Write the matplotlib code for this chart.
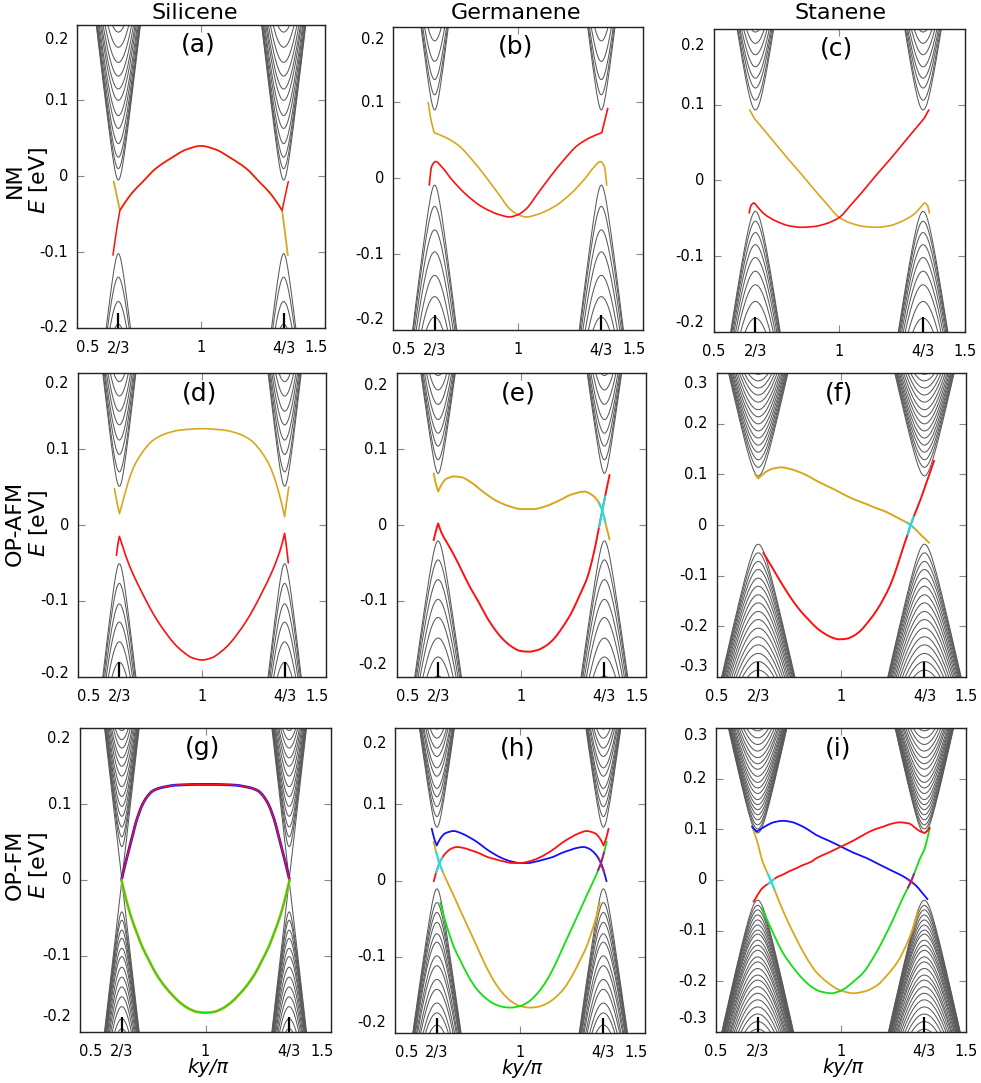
import numpy as np
import matplotlib
matplotlib.use("Agg")
import matplotlib.pyplot as plt
from matplotlib.path import Path
from matplotlib.patches import PathPatch

#%% layout / style
W, H = 981, 1083
GRAY = '#5a5a5a'
RED = '#ff1010'
YEL = '#d9a61c'
BLUE = '#1010ff'
GRN = '#10e010'
CYAN = '#20e0e0'
PURP = '#a02080'

#%% x axis (ky/pi)
X_TICKS = [0.5, 2/3, 1.0, 4/3, 1.5]
X_TICK_LABELS = ['0.5', '2/3', '1', '4/3', '1.5']
VALLEYS = [2/3, 4/3]
Y_TICKS_02 = [-0.2, -0.1, 0.0, 0.1, 0.2]
Y_TICKS_03 = [-0.3, -0.2, -0.1, 0.0, 0.1, 0.2, 0.3]

COLUMNS = ['Silicene', 'Germanene', 'Stanene']
ROWS = ['NM', 'OP-AFM', 'OP-FM']

#%% bulk subband edges (eV) read at the valleys, band centre and slope
A_E0, A_V = -0.055, 2.8
A_COND = [-0.005, 0.010, 0.025, 0.043, 0.063, 0.080, 0.100, 0.115, 0.132, 0.150, 0.170, 0.190]
A_VAL = [-0.102, -0.133, -0.165, -0.195]

B_E0, B_V = 0.045, 2.7
B_COND = [0.090, 0.110, 0.130, 0.154, 0.181]
B_VAL = [-0.009, -0.037, -0.068, -0.097, -0.128, -0.156, -0.183]

C_E0, C_V = 0.027, 2.2
C_COND = [0.093, 0.106, 0.122, 0.135, 0.150, 0.166, 0.181, 0.196]
C_VAL = [-0.041, -0.054, -0.069, -0.085, -0.102, -0.120, -0.138, -0.160, -0.182]

D_E0, D_V = 0.0, 2.9
D_COND = [0.051, 0.070, 0.093, 0.112, 0.132, 0.150, 0.170, 0.189]
D_VAL = [-0.051, -0.077, -0.104, -0.128, -0.154, -0.181]

E_E0, E_V = 0.03, 2.4
E_COND = [0.068, 0.086, 0.104, 0.121, 0.139, 0.159, 0.178, 0.197]
E_VAL = [-0.021, -0.046, -0.072, -0.098, -0.122, -0.149, -0.174, -0.199]

F_E0, F_V = 0.03, 2.2
F_COND = [0.097, 0.114, 0.129, 0.144, 0.158, 0.172, 0.186, 0.200, 0.214, 0.228,
          0.243, 0.257, 0.271, 0.285, 0.298]
F_VAL = [-0.038, -0.055, -0.072, -0.088, -0.105, -0.121, -0.138, -0.154, -0.171,
         -0.187, -0.204, -0.221, -0.237, -0.254, -0.270, -0.287]

G_E0, G_V = 0.0, 2.9
G_COND = [0.003, 0.044, 0.057, 0.070, 0.084, 0.097, 0.110, 0.123, 0.137, 0.150,
          0.161, 0.174, 0.185, 0.197]
G_VAL = [-0.003, -0.042, -0.053, -0.066, -0.077, -0.090, -0.101, -0.115, -0.128,
         -0.141, -0.154, -0.167, -0.183, -0.196]

H_E0, H_V = 0.031, 2.35
H_COND = [0.070, 0.084, 0.097, 0.110, 0.121, 0.137, 0.148, 0.163, 0.174, 0.187, 0.199]
H_VAL = [-0.011, -0.029, -0.042, -0.055, -0.070, -0.081, -0.099, -0.112, -0.130,
         -0.143, -0.161, -0.174, -0.190]

I_E0, I_V = 0.03, 2.25
I_COND = [0.093, 0.101, 0.109, 0.119, 0.129, 0.139, 0.149, 0.159, 0.171, 0.182,
          0.193, 0.205, 0.219, 0.230, 0.242, 0.255, 0.268, 0.281, 0.295]
I_VAL = [-0.040, -0.050, -0.059, -0.069, -0.079, -0.089, -0.099, -0.107, -0.119,
         -0.129, -0.139, -0.152, -0.162, -0.175, -0.188, -0.198, -0.211, -0.224,
         -0.237, -0.251, -0.265, -0.280, -0.295]

#%% edge states (ky/pi, E)
# (a) silicene NM
A_YEL_X = [0.648, 0.660, 0.673, 0.695, 0.722, 0.763, 0.817, 0.885, 0.939, 1.000, 1.061,
           1.115, 1.183, 1.237, 1.278, 1.305, 1.327, 1.337, 1.350]
A_YEL_E = [-0.007, -0.025, -0.045, -0.034, -0.022, -0.008, 0.010, 0.025, 0.035, 0.040, 0.035,
           0.025, 0.010, -0.008, -0.022, -0.034, -0.045, -0.070, -0.104]
A_RED_X = [0.645, 0.660, 0.673, 0.695, 0.722, 0.763, 0.817, 0.885, 0.939, 1.000, 1.061,
           1.115, 1.183, 1.237, 1.278, 1.305, 1.327, 1.340, 1.352]
A_RED_E = [-0.104, -0.070, -0.045, -0.034, -0.022, -0.008, 0.010, 0.025, 0.035, 0.040, 0.035,
           0.025, 0.010, -0.008, -0.022, -0.034, -0.045, -0.025, -0.007]

# (b) germanene NM
B_YEL_X = [0.641, 0.650, 0.665, 0.709, 0.763, 0.817, 0.871, 0.925, 0.966, 1.000, 1.034,
           1.075, 1.142, 1.209, 1.264, 1.305, 1.329, 1.346, 1.355]
B_YEL_E = [0.100, 0.080, 0.060, 0.054, 0.043, 0.024, 0.002, -0.022, -0.040, -0.048, -0.051,
           -0.048, -0.038, -0.021, -0.002, 0.015, 0.022, 0.015, -0.009]
B_RED_X = [0.645, 0.654, 0.671, 0.695, 0.736, 0.791, 0.858, 0.925, 0.966, 1.000, 1.034,
           1.075, 1.129, 1.183, 1.237, 1.291, 1.335, 1.350, 1.359]
B_RED_E = [-0.009, 0.015, 0.022, 0.015, -0.002, -0.021, -0.038, -0.048, -0.051, -0.048, -0.040,
           -0.022, 0.002, 0.024, 0.043, 0.054, 0.060, 0.080, 0.092]

# (c) stanene NM
C_YEL_X = [0.644, 0.662, 0.70, 0.75, 0.80, 0.85, 0.90, 0.95, 1.00, 1.05, 1.10, 1.15,
           1.20, 1.25, 1.30, 1.325, 1.340, 1.352, 1.358]
C_YEL_E = [0.093, 0.082, 0.067, 0.047, 0.027, 0.008, -0.012, -0.031, -0.049, -0.057, -0.061,
           -0.062, -0.060, -0.054, -0.044, -0.035, -0.030, -0.034, -0.043]
C_RED_X = [0.642, 0.648, 0.660, 0.675, 0.70, 0.75, 0.80, 0.85, 0.90, 0.95, 1.00, 1.05,
           1.10, 1.15, 1.20, 1.25, 1.30, 1.338, 1.356]
C_RED_E = [-0.043, -0.034, -0.030, -0.035, -0.044, -0.054, -0.060, -0.062, -0.061, -0.057,
           -0.049, -0.031, -0.012, 0.008, 0.027, 0.047, 0.067, 0.082, 0.093]

# (d) silicene OP-AFM
D_YEL_X = [0.647, 0.657, 0.667, 0.680, 0.694, 0.710, 0.730, 0.760, 0.80, 0.85, 0.91, 1.0,
           1.09, 1.15, 1.20, 1.24, 1.27, 1.29, 1.306, 1.320, 1.333, 1.341, 1.350]
D_YEL_E = [0.048, 0.030, 0.015, 0.030, 0.047, 0.064, 0.080, 0.096, 0.111, 0.120, 0.125, 0.127,
           0.125, 0.120, 0.111, 0.096, 0.080, 0.064, 0.047, 0.030, 0.011, 0.030, 0.050]
D_RED_X = [0.655, 0.661, 0.667, 0.680, 0.694, 0.721, 0.755, 0.788, 0.822, 0.856, 0.89, 0.923,
           0.96, 1.0, 1.04, 1.077, 1.11, 1.144, 1.178, 1.212, 1.245, 1.279, 1.306, 1.320, 1.333,
           1.341, 1.348]
D_RED_E = [-0.040, -0.025, -0.015, -0.028, -0.042, -0.064, -0.087, -0.108, -0.127, -0.143,
           -0.157, -0.167, -0.175, -0.178, -0.175, -0.167, -0.157, -0.143, -0.127, -0.108,
           -0.087, -0.064, -0.042, -0.028, -0.011, -0.030, -0.050]

# (e) germanene OP-AFM
E_YEL_X = [0.649, 0.658, 0.667, 0.680, 0.700, 0.732, 0.76, 0.80, 0.85, 0.90, 0.95, 1.00,
           1.05, 1.10, 1.15, 1.20, 1.253, 1.29, 1.310, 1.324, 1.338, 1.354]
E_YEL_E = [0.068, 0.054, 0.044, 0.053, 0.061, 0.064, 0.063, 0.056, 0.043, 0.032, 0.025, 0.021,
           0.021, 0.025, 0.032, 0.040, 0.044, 0.038, 0.030, 0.020, 0.002, -0.019]
E_RED_X = [0.649, 0.658, 0.667, 0.680, 0.70, 0.726, 0.76, 0.793, 0.83, 0.861, 0.895, 0.928,
           0.96, 0.996, 1.03, 1.064, 1.10, 1.131, 1.165, 1.199, 1.235, 1.266, 1.29, 1.307,
           1.324, 1.34, 1.354]
E_RED_E = [-0.020, -0.008, 0.002, -0.010, -0.022, -0.037, -0.059, -0.081, -0.102, -0.121,
           -0.138, -0.151, -0.160, -0.166, -0.167, -0.165, -0.159, -0.150, -0.135, -0.117,
           -0.092, -0.068, -0.038, -0.011, 0.018, 0.044, 0.066]

# (f) stanene OP-AFM
F_YEL_X = [0.654, 0.660, 0.667, 0.680, 0.70, 0.73, 0.761, 0.80, 0.835, 0.87, 0.902, 0.935,
           0.969, 1.00, 1.036, 1.07, 1.103, 1.136, 1.170, 1.20, 1.238, 1.258, 1.278, 1.298,
           1.318, 1.335, 1.352]
F_YEL_E = [0.101, 0.096, 0.092, 0.098, 0.106, 0.112, 0.114, 0.110, 0.104, 0.096, 0.087, 0.079,
           0.071, 0.063, 0.054, 0.047, 0.041, 0.034, 0.028, 0.021, 0.011, 0.006, 0.000, -0.009,
           -0.019, -0.027, -0.035]
F_RED_X = [0.687, 0.72, 0.75, 0.78, 0.81, 0.84, 0.87, 0.90, 0.93, 0.96, 0.99, 1.02, 1.05,
           1.077, 1.11, 1.144, 1.17, 1.197, 1.225, 1.251, 1.265, 1.278, 1.298, 1.318, 1.345,
           1.372]
F_RED_E = [-0.055, -0.082, -0.107, -0.131, -0.153, -0.172, -0.188, -0.203, -0.214, -0.222,
           -0.226, -0.225, -0.219, -0.209, -0.190, -0.167, -0.145, -0.118, -0.080, -0.040,
           -0.020, 0.000, 0.026, 0.051, 0.089, 0.127]

# (g) silicene OP-FM
G_UP_X = [0.665, 0.673, 0.681, 0.691, 0.701, 0.712, 0.722, 0.735, 0.748, 0.768, 0.788, 0.815,
          0.842, 0.88, 0.922, 0.96, 1.0, 1.04, 1.078, 1.12, 1.158, 1.185, 1.212, 1.232, 1.252,
          1.265, 1.278, 1.288, 1.299, 1.309, 1.319, 1.327, 1.335]
G_UP_E = [0.0, 0.011, 0.022, 0.035, 0.048, 0.062, 0.075, 0.088, 0.099, 0.110, 0.117, 0.121,
          0.123, 0.125, 0.1256, 0.126, 0.126, 0.126, 0.1256, 0.125, 0.123, 0.121, 0.117, 0.110,
          0.099, 0.088, 0.075, 0.062, 0.048, 0.035, 0.022, 0.011, 0.0]
G_LO_X = [0.665, 0.673, 0.681, 0.694, 0.708, 0.728, 0.748, 0.775, 0.802, 0.835, 0.869, 0.90,
          0.936, 0.968, 1.0, 1.032, 1.064, 1.10, 1.131, 1.165, 1.198, 1.225, 1.252, 1.272,
          1.292, 1.306, 1.319, 1.327, 1.335]
G_LO_E = [0.0, -0.011, -0.022, -0.038, -0.053, -0.071, -0.088, -0.106, -0.123, -0.139, -0.152,
          -0.162, -0.170, -0.174, -0.175, -0.174, -0.170, -0.162, -0.152, -0.139, -0.123,
          -0.106, -0.088, -0.071, -0.053, -0.038, -0.022, -0.011, 0.0]

# (h) germanene OP-FM
H_BLUE_X = [0.646, 0.656, 0.666, 0.680, 0.700, 0.734, 0.765, 0.795, 0.83, 0.862, 0.895, 0.93,
            0.965, 1.0, 1.032, 1.065, 1.10, 1.132, 1.165, 1.20, 1.23, 1.254, 1.275, 1.295,
            1.31, 1.322, 1.335, 1.346]
H_BLUE_E = [0.068, 0.055, 0.046, 0.055, 0.062, 0.065, 0.062, 0.057, 0.050, 0.042, 0.035, 0.029,
            0.025, 0.023, 0.023, 0.025, 0.028, 0.031, 0.036, 0.040, 0.043, 0.044, 0.042, 0.037,
            0.031, 0.024, 0.012, -0.001]
H_RED_X = [0.654, 0.665, 0.678, 0.690, 0.705, 0.725, 0.746, 0.77, 0.80, 0.835, 0.868, 0.90,
           0.935, 0.968, 1.0, 1.035, 1.07, 1.105, 1.138, 1.17, 1.205, 1.235, 1.266, 1.30,
           1.320, 1.334, 1.344, 1.354]
H_RED_E = [-0.001, 0.012, 0.024, 0.031, 0.037, 0.042, 0.044, 0.043, 0.040, 0.036, 0.031, 0.028,
           0.025, 0.023, 0.023, 0.025, 0.029, 0.035, 0.042, 0.050, 0.057, 0.062, 0.065, 0.062,
           0.055, 0.046, 0.055, 0.068]
H_YEL_X = [0.653, 0.664, 0.676, 0.70, 0.727, 0.76, 0.795, 0.83, 0.862, 0.895, 0.93, 0.965,
           1.0, 1.038, 1.07, 1.105, 1.14, 1.173, 1.207, 1.241, 1.262, 1.281, 1.300, 1.319]
H_YEL_E = [0.051, 0.037, 0.023, 0.004, -0.015, -0.039, -0.064, -0.089, -0.112, -0.132, -0.148,
           -0.159, -0.165, -0.167, -0.166, -0.162, -0.154, -0.143, -0.126, -0.104, -0.090,
           -0.073, -0.053, -0.029]
H_GRN_X = [0.680, 0.70, 0.719, 0.738, 0.759, 0.793, 0.827, 0.86, 0.895, 0.93, 0.962, 1.0,
           1.035, 1.07, 1.105, 1.138, 1.17, 1.205, 1.24, 1.273, 1.30, 1.324, 1.336, 1.347]
H_GRN_E = [-0.029, -0.053, -0.073, -0.090, -0.104, -0.126, -0.143, -0.154, -0.162, -0.166,
           -0.167, -0.165, -0.159, -0.148, -0.132, -0.112, -0.089, -0.064, -0.039, -0.015,
           0.004, 0.023, 0.037, 0.051]

# (i) stanene OP-FM
I_BLUE_X = [0.644, 0.654, 0.664, 0.68, 0.70, 0.73, 0.766, 0.80, 0.833, 0.867, 0.901, 0.95,
            1.0, 1.05, 1.104, 1.14, 1.172, 1.205, 1.226, 1.253, 1.280, 1.30, 1.321, 1.346]
I_BLUE_E = [0.106, 0.100, 0.096, 0.101, 0.107, 0.114, 0.117, 0.115, 0.109, 0.100, 0.089, 0.078,
            0.066, 0.054, 0.043, 0.034, 0.026, 0.018, 0.013, 0.006, -0.003, -0.011, -0.023, -0.038]
I_RED_X = [0.650, 0.684, 0.721, 0.745, 0.765, 0.792, 0.820, 0.850, 0.881, 0.901, 0.95, 1.0,
           1.05, 1.104, 1.14, 1.172, 1.20, 1.233, 1.27, 1.308, 1.322, 1.335, 1.345, 1.355]
I_RED_E = [-0.043, -0.017, -0.003, 0.006, 0.010, 0.017, 0.023, 0.030, 0.036, 0.043, 0.054, 0.066,
           0.078, 0.093, 0.101, 0.106, 0.111, 0.114, 0.112, 0.099, 0.095, 0.093, 0.097, 0.103]
I_YEL_X = [0.644, 0.660, 0.672, 0.684, 0.700, 0.721, 0.745, 0.779, 0.820, 0.860, 0.901, 0.942,
           0.996, 1.050, 1.097, 1.145, 1.185, 1.226, 1.267, 1.294, 1.308]
I_YEL_E = [0.106, 0.084, 0.063, 0.040, 0.020, -0.003, -0.033, -0.073, -0.115, -0.152, -0.182,
           -0.201, -0.218, -0.224, -0.220, -0.208, -0.188, -0.162, -0.122, -0.086, -0.059]
I_GRN_X = [0.684, 0.711, 0.738, 0.765, 0.792, 0.833, 0.874, 0.915, 0.962, 1.003, 1.050, 1.091,
           1.131, 1.172, 1.213, 1.240, 1.260, 1.280, 1.301, 1.314, 1.335, 1.355]
I_GRN_E = [-0.056, -0.086, -0.115, -0.142, -0.162, -0.188, -0.208, -0.220, -0.224, -0.218,
           -0.201, -0.182, -0.152, -0.115, -0.073, -0.043, -0.023, -0.003, 0.023, 0.040, 0.063,
           0.103]

#%% panel table built from the arrays above
# box = (left, top, right, bottom) in pixels, ylab = pixel shift of end labels (top, bottom)
# curve = (x, E, colour, linewidth, indices of sharp corners)
PANELS = [
    dict(tag='(a)', box=(77, 24.5, 325, 328), ylim=0.2, e0=A_E0, v=A_V, cond=A_COND, val=A_VAL,
         curves=[(A_YEL_X, A_YEL_E, YEL, 1.3, [2, 16]), (A_RED_X, A_RED_E, RED, 1.1, [2, 16])],
         hl=[], ylab=(15, 1)),
    dict(tag='(b)', box=(393, 26.5, 643, 330), ylim=0.2, e0=B_E0, v=B_V, cond=B_COND, val=B_VAL,
         curves=[(B_YEL_X, B_YEL_E, YEL, 1.2, [2]), (B_RED_X, B_RED_E, RED, 1.2, [16])],
         hl=[], ylab=(13, 10)),
    dict(tag='(c)', box=(713.5, 29, 965, 331.7), ylim=0.2, e0=C_E0, v=C_V, cond=C_COND, val=C_VAL,
         curves=[(C_YEL_X, C_YEL_E, YEL, 1.2, [1]), (C_RED_X, C_RED_E, RED, 1.2, [17])],
         hl=[], ylab=(16, 9)),
    dict(tag='(d)', box=(78, 373.3, 326, 676.7), ylim=0.2, e0=D_E0, v=D_V, cond=D_COND, val=D_VAL,
         curves=[(D_YEL_X, D_YEL_E, YEL, 1.2, [2, 20]), (D_RED_X, D_RED_E, RED, 1.2, [2, 24])],
         hl=[], ylab=(10, 3)),
    dict(tag='(e)', box=(396.5, 373.3, 646, 676.7), ylim=0.2, e0=E_E0, v=E_V, cond=E_COND, val=E_VAL,
         curves=[(E_YEL_X, E_YEL_E, YEL, 1.4, [2]), (E_RED_X, E_RED_E, RED, 1.4, [2])],
         hl=[(E_YEL_X, E_YEL_E, 1.324, CYAN), (E_RED_X, E_RED_E, 1.324, CYAN)], ylab=(12, 12)),
    dict(tag='(f)', box=(716.7, 373.3, 966, 676.7), ylim=0.3, e0=F_E0, v=F_V, cond=F_COND, val=F_VAL,
         curves=[(F_YEL_X, F_YEL_E, YEL, 1.4, [2]), (F_RED_X, F_RED_E, RED, 1.4, [])],
         hl=[(F_YEL_X, F_YEL_E, 1.278, CYAN), (F_RED_X, F_RED_E, 1.278, CYAN)], ylab=(10, 10)),
    dict(tag='(g)', box=(80, 728.3, 331, 1031.7), ylim=0.2, e0=G_E0, v=G_V, cond=G_COND, val=G_VAL,
         curves=[(G_UP_X, G_UP_E, BLUE, 2.0, []), (G_UP_X, G_UP_E, RED, 1.0, []),
                 (G_LO_X, G_LO_E, YEL, 2.0, []), (G_LO_X, G_LO_E, GRN, 1.0, [])],
         hl=[], ylab=(10, 15)),
    dict(tag='(h)', box=(395.3, 728.3, 645, 1032.7), ylim=0.2, e0=H_E0, v=H_V, cond=H_COND, val=H_VAL,
         curves=[(H_YEL_X, H_YEL_E, YEL, 1.3, []), (H_GRN_X, H_GRN_E, GRN, 1.3, []),
                 (H_BLUE_X, H_BLUE_E, BLUE, 1.3, [2]), (H_RED_X, H_RED_E, RED, 1.3, [25])],
         hl=[(H_YEL_X, H_YEL_E, 0.676, CYAN), (H_RED_X, H_RED_E, 0.676, CYAN),
             (H_GRN_X, H_GRN_E, 1.324, PURP), (H_BLUE_X, H_BLUE_E, 1.324, PURP)], ylab=(15, 10)),
    dict(tag='(i)', box=(716, 728.3, 966, 1031.7), ylim=0.3, e0=I_E0, v=I_V, cond=I_COND, val=I_VAL,
         curves=[(I_YEL_X, I_YEL_E, YEL, 1.3, []), (I_GRN_X, I_GRN_E, GRN, 1.3, []),
                 (I_BLUE_X, I_BLUE_E, BLUE, 1.3, [2]), (I_RED_X, I_RED_E, RED, 1.3, [21])],
         hl=[(I_YEL_X, I_YEL_E, 0.721, CYAN), (I_RED_X, I_RED_E, 0.721, CYAN),
             (I_GRN_X, I_GRN_E, 1.280, PURP), (I_BLUE_X, I_BLUE_E, 1.280, PURP)], ylab=(7, 13)),
]


def ylabel_text(v):
    return '0' if abs(v) < 1e-9 else '%.1f' % v


def pchip_slopes(x, y):
    # shape preserving tangents, so the drawn curve does not overshoot the read points
    h = np.diff(x)
    d = np.diff(y) / h
    m = np.zeros(len(x))
    m[0], m[-1] = d[0], d[-1]
    for i in range(1, len(x) - 1):
        if d[i - 1] * d[i] > 0:
            w1 = 2 * h[i] + h[i - 1]
            w2 = h[i] + 2 * h[i - 1]
            m[i] = (w1 + w2) / (w1 / d[i - 1] + w2 / d[i])
    return m


def smooth_path(x, y, corners):
    # bezier path through every read point, kept sharp at the listed corners
    x = np.asarray(x, float)
    y = np.asarray(y, float)
    cuts = [0] + sorted(corners) + [len(x) - 1]
    verts = [(x[0], y[0])]
    codes = [Path.MOVETO]
    for a, b in zip(cuts[:-1], cuts[1:]):
        xs, ys = x[a:b + 1], y[a:b + 1]
        m = pchip_slopes(xs, ys)
        for i in range(len(xs) - 1):
            h = xs[i + 1] - xs[i]
            verts += [(xs[i] + h / 3, ys[i] + m[i] * h / 3),
                      (xs[i + 1] - h / 3, ys[i + 1] - m[i + 1] * h / 3),
                      (xs[i + 1], ys[i + 1])]
            codes += [Path.CURVE4] * 3
    return Path(verts, codes)


def draw_bulk(ax, p):
    q = np.linspace(-0.25, 0.25, 601)
    for k in VALLEYS:
        for ec in p['cond']:
            ax.plot(k + q, p['e0'] + np.sqrt((ec - p['e0'])**2 + (p['v'] * q)**2),
                    color=GRAY, lw=0.75, zorder=1)
        for ev in p['val']:
            ax.plot(k + q, p['e0'] - np.sqrt((p['e0'] - ev)**2 + (p['v'] * q)**2),
                    color=GRAY, lw=0.75, zorder=1)


fig = plt.figure(figsize=(W / 100, H / 100), dpi=100)

for n, p in enumerate(PANELS):
    row, col = divmod(n, 3)
    l, t, r, b = p['box']
    ax = fig.add_axes([l / W, 1 - b / H, (r - l) / W, (b - t) / H])
    draw_bulk(ax, p)
    for cx, ce, c, lw, corners in p['curves']:
        ax.add_patch(PathPatch(smooth_path(cx, ce, corners), facecolor='none', edgecolor=c,
                               lw=lw, zorder=3, capstyle='round', joinstyle='round'))
    for cx, ce, xc, c in p['hl']:
        xs = np.linspace(xc - 0.012, xc + 0.012, 20)
        ax.plot(xs, np.interp(xs, cx, ce), color=c, lw=1.4, zorder=4)

    ym = p['ylim']
    yt = Y_TICKS_03 if ym > 0.25 else Y_TICKS_02
    ax.set_xlim(0.5, 1.5)
    ax.set_ylim(-ym, ym)

    # ticks
    ax.set_xticks([0.5, 1.0, 1.5])
    ax.set_xticks(VALLEYS, minor=True)
    ax.set_yticks(yt)
    ax.tick_params(which='major', direction='in', length=5, width=0.8, color='#888888',
                   top=True, bottom=True, left=True, right=True,
                   labelbottom=False, labelleft=False)
    ax.tick_params(which='minor', axis='x', direction='in', length=11, width=1.6,
                   color='k', top=False, bottom=True)
    ax.tick_params(which='minor', axis='y', length=0)
    for s in ax.spines.values():
        s.set_color('#222222')
        s.set_linewidth(1.0)

    # tick labels drawn as text to reproduce the shifted end labels
    for yv in yt:
        dy = 0
        if yv == yt[-1]:
            dy = -p['ylab'][0]
        elif yv == yt[0]:
            dy = p['ylab'][1]
        ax.annotate(ylabel_text(yv), xy=(0, yv), xycoords=('axes fraction', 'data'),
                    xytext=(-9, dy), textcoords='offset pixels',
                    ha='right', va='center', fontsize=10.5)
    for xv, lab in zip(X_TICKS, X_TICK_LABELS):
        dx = 0
        if col < 2 and xv == X_TICKS[0]:
            dx = 11
        elif col < 2 and xv == X_TICKS[-1]:
            dx = -9
        ax.annotate(lab, xy=(xv, 0), xycoords=('data', 'axes fraction'),
                    xytext=(dx, -20), textcoords='offset pixels',
                    ha='center', va='center', fontsize=10.5)
    if row == 2:
        ax.annotate('ky/π', xy=(1.0, 0), xycoords=('data', 'axes fraction'),
                    xytext=(2, -36), textcoords='offset pixels', ha='center', va='center',
                    fontsize=14, style='italic')

    ax.text(0.49, 0.935, p['tag'], transform=ax.transAxes, ha='center', va='center',
            fontsize=18, zorder=5)

# column titles
for name, xc in zip(COLUMNS, [195, 516, 840]):
    fig.text(xc / W, 1 - 13 / H, name, ha='center', va='center', fontsize=16)

# row labels
for name, yc in zip(ROWS, [180, 523, 865]):
    fig.text(15 / W, 1 - yc / H, name, rotation=90, ha='center', va='center', fontsize=16)
    fig.text(38 / W, 1 - yc / H, r'$E$ [eV]', rotation=90, ha='center', va='center', fontsize=16)

fig.savefig('out.png', dpi=100)
